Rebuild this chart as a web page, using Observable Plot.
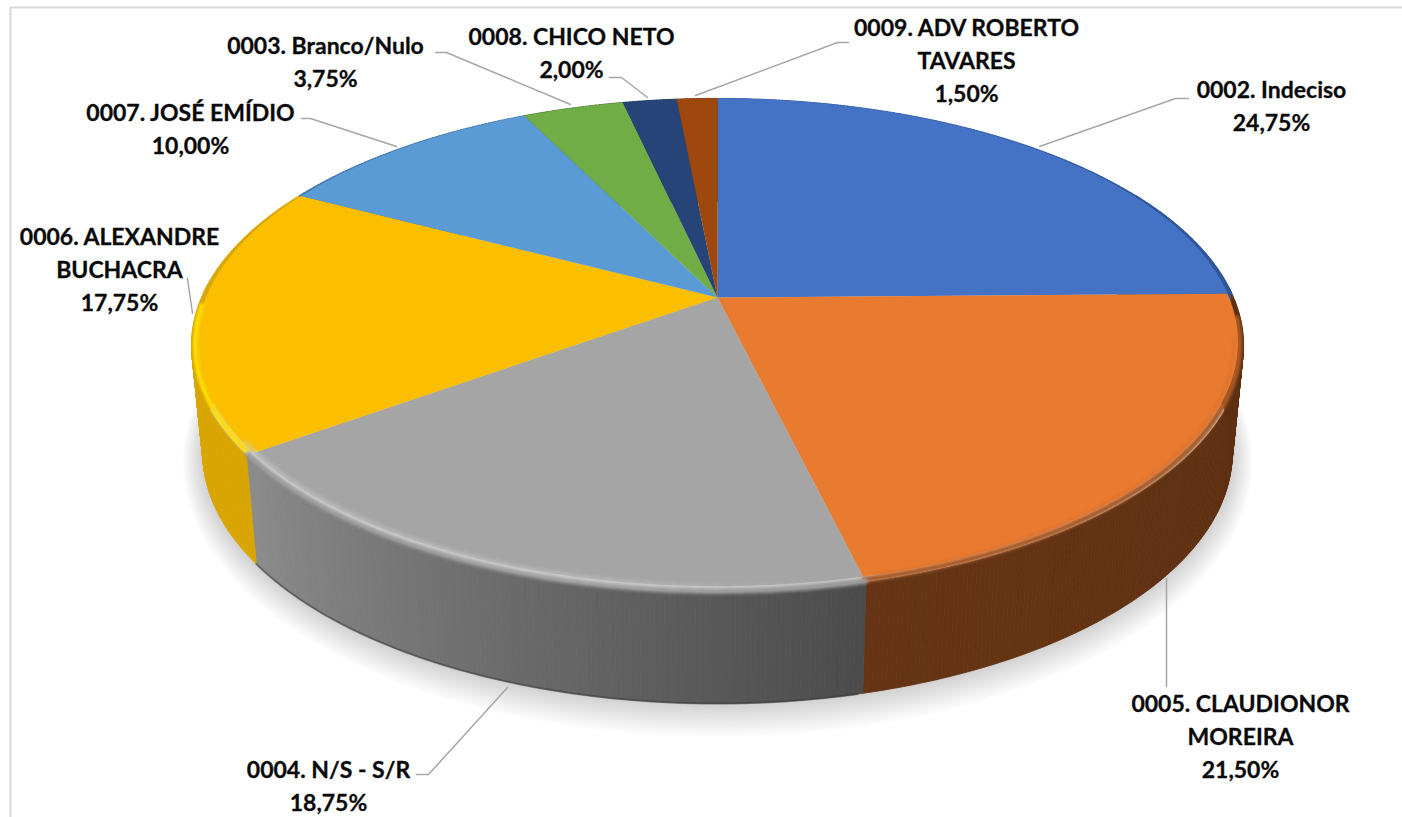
<!DOCTYPE html>
<html>
<head>
<meta charset="utf-8">
<script src="https://cdn.jsdelivr.net/npm/d3@7"></script>
<script src="https://cdn.jsdelivr.net/npm/@observablehq/plot@0.6"></script>
<style>html,body{margin:0;padding:0;background:#fff;overflow:hidden}svg{display:block}</style>
</head>
<body>
<div id="chart"></div>
<script>
// Data, in the clockwise order of the slices
const categories = ["0002. Indeciso","0005. CLAUDIONOR\nMOREIRA","0004. N/S - S/R","0006. ALEXANDRE\nBUCHACRA","0007. JOSÉ EMÍDIO","0003. Branco/Nulo","0008. CHICO NETO","0009. ADV ROBERTO\nTAVARES"];
const values = [24.75,21.50,18.75,17.75,10.00,3.75,2.00,1.50];
const colors = ["#4472c4","#e97b30","#a5a5a5","#fbbf00","#5b9bd5","#70ad47","#264478","#9e480e"];
const wallFrom = ["#2f5597","#5b2e11","#4b4b4b","#d9a600","#3f76ab","#4f7a32","#1b3055","#6f330a"];
const wallTo   = ["#2f5597","#663414","#8c8c8c","#d9a600","#3f76ab","#4f7a32","#1b3055","#6f330a"];

// Layout: label centres and leader-line paths, in pixels
const labelX = [1271,1240,328,119,190,325,571,966];
const labelY = [103.5,734,783.5,267,126,59,50,58];
const leaders = [
  [[1188,98],[1175,98],[1039,146]],
  [[1166,578],[1166,686]],
  [[416,774],[428,774],[507,687]],
  [[187,278],[192,313]],
  [[301,118],[310,118],[396,146]],
  [[435,52],[446,52],[570,104]],
  [[609,77],[621,77],[647,97]],
  [[848,42],[837,42],[695,95]]
];

// Perspective discs: apex (centre of the circle), height scale, width scale
const W = 1402, H = 817, C = 0.194;
const topDisc = {cx:717, cy:297, h:237.7, d:516};
const baseDisc = {cx:717, cy:403.3, h:241.6, d:505};
const project = (disc, theta, k = 1) => {
  const u = k * Math.sin(theta), v = k * Math.cos(theta), q = 1 + C * v;
  return {x: disc.cx + disc.d * u / q, y: disc.cy - disc.h * v / q};
};
const arcs = d3.pie().sort(null).value(d => d)(values);
const samples = (a, b) => {
  const n = Math.max(2, Math.ceil((b - a) / 0.008));
  return d3.range(n + 1).map(i => a + (b - a) * i / n);
};
const rad = d => d * Math.PI / 180;

// Slices of the top face; the front of the rim is pulled in by the bevel
const facePoly = (inset) => arcs.flatMap((a, i) => [
  {i, ...project(topDisc, 0, 0)},
  ...samples(a.startAngle, a.endAngle).map(t => ({i, ...project(topDisc, t, 1 - inset * (1 - Math.cos(t)) / 2)})),
  {i, ...project(topDisc, 0, 0)}
]);

// Side wall: thin quads between the two rims
const wallQuads = [];
arcs.forEach((a, i) => {
  const ts = samples(a.startAngle, a.endAngle);
  const mix = d3.interpolateRgb(wallFrom[i], wallTo[i]);
  ts.slice(1).forEach((t, j) => {
    const t0 = ts[j], c = mix(j / (ts.length - 2));
    const id = `${i}-${j}`;
    [project(topDisc, t0), project(topDisc, t), project(baseDisc, t), project(baseDisc, t0), project(topDisc, t0)]
      .forEach(p => wallQuads.push({id, c, ...p}));
  });
});

const rimLine = (disc, a, b, k = 1) => samples(rad(a), rad(b)).map(t => project(disc, t, k));

// Soft shadow: nested translucent outlines, widest first
const shadowLevels = 16;
const shadow = d3.range(shadowLevels).flatMap(j => {
  const s = 1 - j / (shadowLevels - 1);
  const disc = {cx: 717, cy: baseDisc.cy + 6 * s, h: baseDisc.h + 22 * s, d: baseDisc.d + 20 * s};
  return rimLine(disc, 0, 360).map(p => ({j, ...p}));
});

// Grey highlight, fading towards its right end
const fadeStart = 168, fadeEnd = 236;
const greyGlow = d3.range(fadeStart, fadeEnd, 2).flatMap(a => {
  const o = Math.min(0.7, (a - fadeStart) / 35);
  return rimLine(topDisc, a, a + 2.2, 0.985).map(p => ({id: a, o, ...p}));
});

const labels = categories.map((c, i) => ({
  x: labelX[i], y: labelY[i],
  text: c + "\n" + d3.format(".2f")(values[i]).replace(".", ",") + "%"
}));
const leaderPts = leaders.flatMap((l, i) => l.map(([x, y]) => ({i, x, y})));

const plot = Plot.plot({
  width: W, height: H, margin: 0,
  x: {domain: [0, W], range: [0, W], axis: null},
  y: {domain: [0, H], range: [0, H], axis: null},
  color: {type: "identity"},
  marks: [
    Plot.ruleY([7], {x1: 10, x2: W, stroke: "#d9d9d9", strokeWidth: 2}),
    Plot.ruleX([10], {y1: 7, y2: H, stroke: "#d9d9d9", strokeWidth: 2}),
    // Soft shadow
    Plot.line(shadow, {x: "x", y: "y", z: "j", fill: "#000", fillOpacity: 0.011, stroke: "none"}),
    // Side wall
    Plot.line(wallQuads, {x: "x", y: "y", z: "id", fill: "c", stroke: "c", strokeWidth: 0.8}),
    // Dark bottom edge of the grey wall
    Plot.line(rimLine(baseDisc, 167, 234), {x: "x", y: "y", stroke: "#333", strokeOpacity: 0.5, strokeWidth: 2, imageFilter: "blur(0.7px)"}),
    // Soft shoulders under the sharp face
    Plot.line(rimLine(topDisc, 95, 166.5, 0.992), {x: "x", y: "y", stroke: "#a85a26", strokeWidth: 6, imageFilter: "blur(1.8px)"}),
    Plot.line(rimLine(topDisc, 166.5, 234, 0.996), {x: "x", y: "y", stroke: "#989898", strokeWidth: 6, imageFilter: "blur(1.8px)"}),
    Plot.line(facePoly(0.017), {x: "x", y: "y", z: "i", fill: d => colors[d.i], stroke: "none"}),
    // Bevel highlights
    Plot.line(rimLine(topDisc, 100, 165, 0.982), {x: "x", y: "y", stroke: "#e07530", strokeWidth: 3, imageFilter: "blur(1px)"}),
    Plot.line(greyGlow, {x: "x", y: "y", z: "id", stroke: "#cfcfcf", strokeOpacity: "o", strokeWidth: 4, imageFilter: "blur(2.4px)"}),
    Plot.line(rimLine(topDisc, 235, 268, 0.993), {x: "x", y: "y", stroke: "#ffdc00", strokeWidth: 5, imageFilter: "blur(1px)"}),
    Plot.line(rimLine(topDisc, 62, 89, 1), {x: "x", y: "y", stroke: "#2f5597", strokeWidth: 1.2, imageFilter: "blur(0.5px)"}),
    // Leader lines and labels
    Plot.line(leaderPts, {x: "x", y: "y", z: "i", stroke: "#a6a6a6", strokeWidth: 1.5}),
    Plot.text(labels, {x: "x", y: "y", text: "text", textAnchor: "middle", lineAnchor: "middle", lineHeight: 1.44,
      fontFamily: "Lato", fontWeight: 700, fontSize: 23, fill: "#0a0a0a", stroke: "#0a0a0a", strokeWidth: 0.3})
  ]
});
document.getElementById("chart").append(plot);
</script>
</body>
</html>
